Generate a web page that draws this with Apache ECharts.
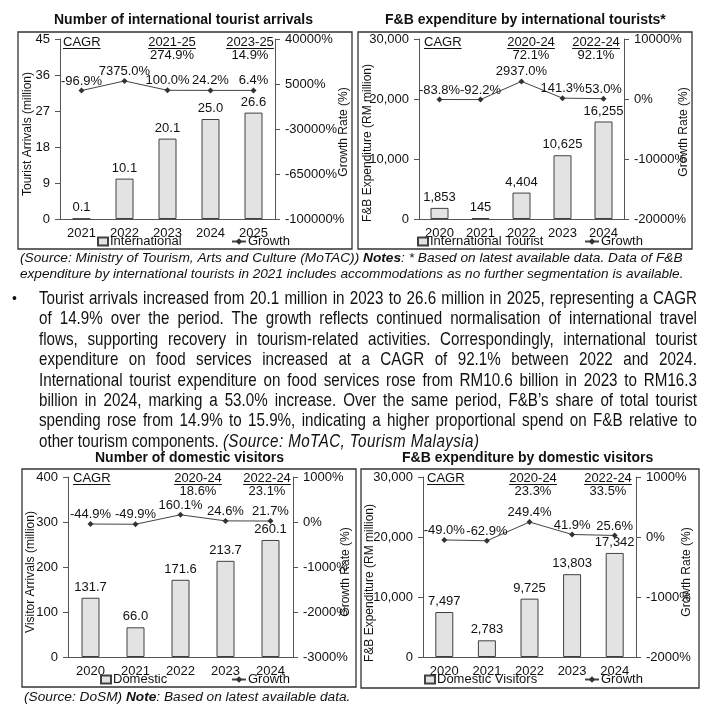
<!DOCTYPE html>
<html><head><meta charset="utf-8">
<script src="https://cdn.jsdelivr.net/npm/echarts@6/dist/echarts.min.js"></script>
<style>
html,body{margin:0;padding:0;background:#fff;}
#chart{position:absolute;left:0;top:0;width:712px;height:708px;}
#para{position:absolute;left:39px;top:288px;width:658px;font-family:'Liberation Sans',Arial,sans-serif;font-size:18.5px;line-height:20.4px;color:#111;}
#para div{width:802px;transform:scaleX(0.8204);transform-origin:0 0;text-align:justify;text-align-last:justify;white-space:nowrap;height:20.4px;}
#para div.last{text-align:left;text-align-last:left;}
#para div.last i{letter-spacing:0.5px;}
#bullet{position:absolute;left:12px;top:288px;font-family:'Liberation Sans',sans-serif;font-size:14px;line-height:20.4px;color:#111;}
</style></head>
<body>
<div id="chart"></div>
<div id="bullet">•</div>
<div id="para">
<div>Tourist arrivals increased from 20.1 million in 2023 to 26.6 million in 2025, representing a CAGR</div>
<div>of 14.9% over the period. The growth reflects continued normalisation of international travel</div>
<div>flows, supporting recovery in tourism-related activities. Correspondingly, international tourist</div>
<div>expenditure on food services increased at a CAGR of 92.1% between 2022 and 2024.</div>
<div>International tourist expenditure on food services rose from RM10.6 billion in 2023 to RM16.3</div>
<div>billion in 2024, marking a 53.0% increase. Over the same period, F&amp;B’s share of total tourist</div>
<div>spending rose from 14.9% to 15.9%, indicating a higher proportional spend on F&amp;B relative to</div>
<div class="last">other tourism components. <i>(Source: MoTAC, Tourism Malaysia)</i></div>
</div>
<script>
// ---------- DATA ----------
const intlArrYears = ['2021', '2022', '2023', '2024', '2025'];
const intlArrivals = [0.1, 10.1, 20.1, 25.0, 26.6];
const intlArrGrowth = [-96.9, 7375.0, 100.0, 24.2, 6.4];
const intlArrTicks = [0, 9, 18, 27, 36, 45];
const intlArrGrowthTicks = [-100000, -65000, -30000, 5000, 40000];

const intlFnbYears = ['2020', '2021', '2022', '2023', '2024'];
const intlFnb = [1853, 145, 4404, 10625, 16255];
const intlFnbGrowth = [-83.8, -92.2, 2937.0, 141.3, 53.0];
const intlFnbTicks = [0, 10000, 20000, 30000];
const intlFnbGrowthTicks = [-20000, -10000, 0, 10000];

const domVisYears = ['2020', '2021', '2022', '2023', '2024'];
const domVisitors = [131.7, 66.0, 171.6, 213.7, 260.1];
const domVisGrowth = [-44.9, -49.9, 160.1, 24.6, 21.7];
const domVisTicks = [0, 100, 200, 300, 400];
const domVisGrowthTicks = [-3000, -2000, -1000, 0, 1000];

const domFnbYears = ['2020', '2021', '2022', '2023', '2024'];
const domFnb = [7497, 2783, 9725, 13803, 17342];
const domFnbGrowth = [-49.0, -62.9, 249.4, 41.9, 25.6];
const domFnbTicks = [0, 10000, 20000, 30000];
const domFnbGrowthTicks = [-2000, -1000, 0, 1000];

const cagr1 = [['2021-25', '274.9%'], ['2023-25', '14.9%']];
const cagr2 = [['2020-24', '72.1%'], ['2022-24', '92.1%']];
const cagr3 = [['2020-24', '18.6%'], ['2022-24', '23.1%']];
const cagr4 = [['2020-24', '23.3%'], ['2022-24', '33.5%']];

// ---------- LAYOUT ----------
const FONT = "'Liberation Sans', Arial, sans-serif";
const AX = '#555';
const TXT = '#111';
const ctx = document.createElement('canvas').getContext('2d');
function tw(t, f) { ctx.font = f; return ctx.measureText(t).width; }
const fmtComma = v => Number(v).toLocaleString('en-US');

const charts = [
  { title: 'Number of international tourist arrivals', titleCx: 184, titleY: 13,
    frame: [18, 32, 334, 217],
    grid: { left: 60, top: 39, width: 215, height: 180 },
    cats: intlArrYears, bars: intlArrivals, growth: intlArrGrowth,
    lt: intlArrTicks, rt: intlArrGrowthTicks,
    lname: 'Tourist Arrivals (million)', lgap: 26, lshift: 10, rname: 'Growth Rate (%)', rgap: 63, rshift: 6,
    lfmt: v => String(v), bfmt: v => v.toFixed(1),
    barName: 'International', legBar: [97, 242], legLine: [231, 242],
    cagrY: 42, cagr: cagr1, cagrX: [63, 172, 250] },
  { title: 'F&B expenditure by international tourists*', titleCx: 525, titleY: 13,
    frame: [358, 32, 334, 217],
    grid: { left: 419, top: 39, width: 205, height: 180 },
    cats: intlFnbYears, bars: intlFnb, growth: intlFnbGrowth,
    lt: intlFnbTicks, rt: intlFnbGrowthTicks,
    lname: 'F&B Expenditure (RM million)', lgap: 45, lshift: 28, rname: 'Growth Rate (%)', rgap: 54, rshift: 6,
    lfmt: fmtComma, bfmt: fmtComma,
    barName: 'International Tourist', legBar: [417, 242], legLine: [584, 242],
    cagrY: 42, cagr: cagr2, cagrX: [424, 531, 596] },
  { title: 'Number of domestic visitors', titleCx: 190, titleY: 451,
    frame: [22, 469, 334, 218],
    grid: { left: 68, top: 477, width: 225, height: 180 },
    cats: domVisYears, bars: domVisitors, growth: domVisGrowth,
    lt: domVisTicks, rt: domVisGrowthTicks,
    lname: 'Visitor Arrivals (million)', lgap: 31, lshift: 10, rname: 'Growth Rate (%)', rgap: 47, rshift: 10,
    lfmt: v => String(v), bfmt: v => v.toFixed(1),
    barName: 'Domestic', legBar: [100, 680], legLine: [231, 680],
    cagrY: 478, cagr: cagr3, cagrX: [73, 198, 267] },
  { title: 'F&B expenditure by domestic visitors', titleCx: 528, titleY: 451,
    frame: [361, 469, 338, 219],
    grid: { left: 423, top: 477, width: 213, height: 180 },
    cats: domFnbYears, bars: domFnb, growth: domFnbGrowth,
    lt: domFnbTicks, rt: domFnbGrowthTicks,
    lname: 'F&B Expenditure (RM million)', lgap: 47, lshift: 32, rname: 'Growth Rate (%)', rgap: 45, rshift: 10,
    lfmt: fmtComma, bfmt: fmtComma,
    barName: 'Domestic Visitors', legBar: [424, 680], legLine: [584, 680],
    cagrY: 478, cagr: cagr4, cagrX: [427, 533, 608] }
];

const option = { animation: false, backgroundColor: '#fff', textStyle: { fontFamily: FONT },
  title: [], grid: [], xAxis: [], yAxis: [], series: [], legend: [], graphic: [] };

const annFont = '13px ' + FONT;
function underlinedText(text, x, y, align) {
  const w = tw(text, annFont);
  const x0 = align === 'center' ? x - w / 2 : x;
  option.graphic.push({ type: 'text', x: x, y: y, z: 10,
    style: { text: text, font: annFont, fill: TXT, textAlign: align, textVerticalAlign: 'middle' } });
  option.graphic.push({ type: 'line', z: 10,
    shape: { x1: x0, y1: y + 6.5, x2: x0 + w, y2: y + 6.5 }, style: { stroke: TXT, lineWidth: 1 } });
}

charts.forEach((c, i) => {
  const titleW = tw(c.title, 'bold 14px ' + FONT);
  option.title.push({ text: c.title, left: Math.round(c.titleCx - titleW / 2), top: c.titleY, padding: 0,
    textStyle: { fontSize: 14, fontWeight: 'bold', color: TXT, fontFamily: FONT } });
  option.graphic.push({ type: 'rect', z: 0,
    shape: { x: c.frame[0], y: c.frame[1], width: c.frame[2], height: c.frame[3] },
    style: { fill: 'none', stroke: '#333', lineWidth: 1.3 } });
  option.grid.push(Object.assign({ containLabel: false }, c.grid));
  option.xAxis.push({ type: 'category', gridIndex: i, data: c.cats,
    axisLine: { lineStyle: { color: AX, width: 1 } }, axisTick: { show: false },
    axisLabel: { fontSize: 13, color: TXT, margin: 8 } });
  option.yAxis.push({ type: 'value', gridIndex: i, position: 'left',
    min: c.lt[0], max: c.lt[c.lt.length - 1], interval: c.lt[1] - c.lt[0],
    splitLine: { show: false },
    axisLine: { show: true, lineStyle: { color: AX, width: 1 } },
    axisTick: { show: true, length: 5, lineStyle: { color: AX } },
    axisLabel: { fontSize: 13, color: TXT, margin: 10, formatter: c.lfmt },
    name: c.lname, nameLocation: 'middle', nameGap: c.lgap, nameMoveOverlap: false,
    nameTextStyle: { fontSize: 12, color: TXT, padding: [0, c.lshift, 0, 0] } });
  option.yAxis.push({ type: 'value', gridIndex: i, position: 'right',
    min: c.rt[0], max: c.rt[c.rt.length - 1],
    splitLine: { show: false },
    axisLine: { show: true, lineStyle: { color: AX, width: 1 } },
    axisTick: { show: true, length: 5, lineStyle: { color: AX }, customValues: c.rt },
    axisLabel: { fontSize: 13, color: TXT, margin: 10, customValues: c.rt, formatter: v => v + '%' },
    name: c.rname, nameLocation: 'middle', nameGap: c.rgap, nameMoveOverlap: false,
    nameTextStyle: { fontSize: 12, color: TXT, padding: [0, c.rshift, 0, 0] } });
  option.series.push({ type: 'bar', name: c.barName, xAxisIndex: i, yAxisIndex: 2 * i,
    data: c.bars, barWidth: 18,
    itemStyle: { color: '#e3e3e3', borderColor: '#404040', borderWidth: 1 },
    label: { show: true, position: 'top', distance: 4, fontSize: 13, color: TXT, formatter: p => c.bfmt(p.value) } });
  option.series.push({ type: 'line', name: 'Growth', xAxisIndex: i, yAxisIndex: 2 * i + 1,
    data: c.growth, symbol: 'diamond', symbolSize: 6,
    lineStyle: { color: '#444', width: 1 }, itemStyle: { color: '#333' },
    label: { show: true, position: 'top', distance: 0, fontSize: 13, color: TXT, formatter: p => p.value.toFixed(1) + '%' } });
  option.legend.push({ data: [{ name: c.barName, icon: 'rect' }], left: c.legBar[0], top: c.legBar[1] - 7, padding: 0,
    itemWidth: 10, itemHeight: 8, itemGap: 2, textStyle: { fontSize: 13, color: TXT, padding: [0, 0, 0, -3] }, selectedMode: false });
  option.legend.push({ data: ['Growth'], left: c.legLine[0], top: c.legLine[1] - 7, padding: 0,
    itemWidth: 14, itemHeight: 8, textStyle: { fontSize: 13, color: TXT, padding: [0, 0, 0, -3] }, selectedMode: false });
  // CAGR annotations
  underlinedText('CAGR', c.cagrX[0], c.cagrY, 'left');
  c.cagr.forEach((a, k) => {
    underlinedText(a[0], c.cagrX[k + 1], c.cagrY, 'center');
    option.graphic.push({ type: 'text', x: c.cagrX[k + 1], y: c.cagrY + 13, z: 10,
      style: { text: a[1], font: annFont, fill: TXT, textAlign: 'center', textVerticalAlign: 'middle' } });
  });
});

// captions
const capFont = 'italic 13.7px ' + FONT;
const boldRich = { b: { fontWeight: 'bold', fontStyle: 'italic', fontSize: 13.7, fontFamily: FONT, fill: TXT } };
option.graphic.push({ type: 'text', x: 20, y: 258, z: 10,
  style: { text: '(Source: Ministry of Tourism, Arts and Culture (MoTAC)) {b|Notes}: * Based on latest available data. Data of F&B',
    font: capFont, fill: TXT, textVerticalAlign: 'middle', rich: boldRich } });
option.graphic.push({ type: 'text', x: 20, y: 274, z: 10,
  style: { text: 'expenditure by international tourists in 2021 includes accommodations as no further segmentation is available.',
    font: 'italic 13.6px ' + FONT, fill: TXT, textVerticalAlign: 'middle' } });
option.graphic.push({ type: 'text', x: 24, y: 697, z: 10,
  style: { text: '(Source: DoSM) {b|Note}: Based on latest available data.',
    font: capFont, fill: TXT, textVerticalAlign: 'middle', rich: boldRich } });

const chart = echarts.init(document.getElementById('chart'), null, { renderer: 'canvas' });
chart.setOption(option);
</script>
</body></html>
